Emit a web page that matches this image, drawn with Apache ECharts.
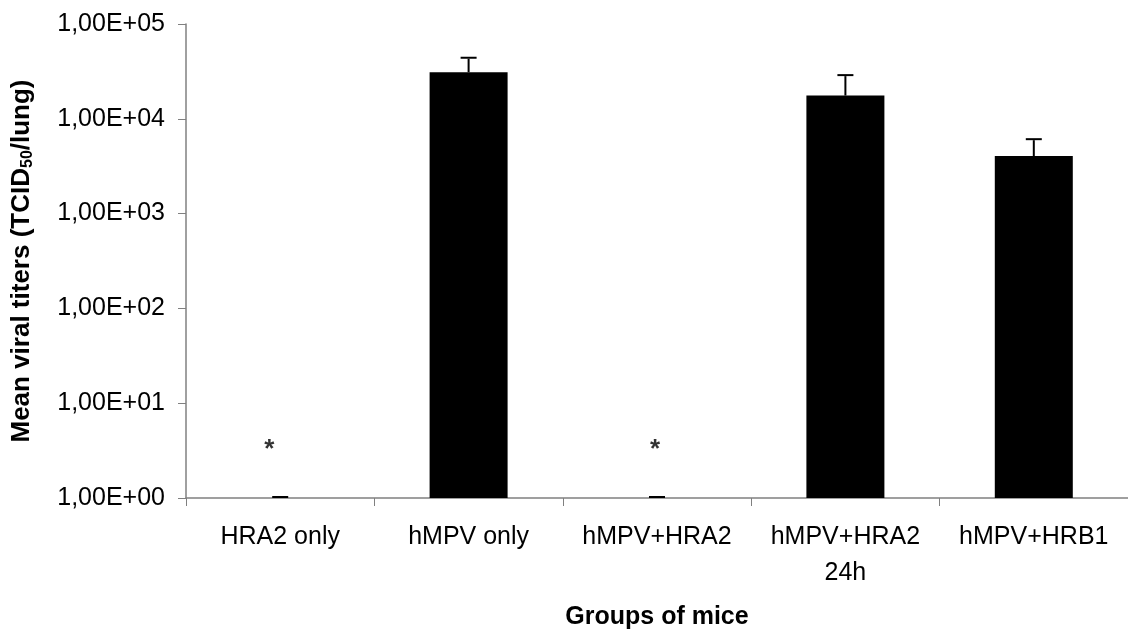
<!DOCTYPE html>
<html>
<head>
<meta charset="utf-8">
<script src="https://cdn.jsdelivr.net/npm/echarts@6/dist/echarts.min.js"></script>
<style>
html,body{margin:0;padding:0;background:#fff;}
#chart{width:1128px;height:637px;}
</style>
</head>
<body>
<div id="chart"></div>
<script>
const categories = ['HRA2 only', 'hMPV only', 'hMPV+HRA2', 'hMPV+HRA2\n24h', 'hMPV+HRB1'];
const meanTiters = [1, 31000, 1, 17600, 4050];
const errorPlus = [0, 12000, 0, 10600, 1900];
const yTickLabels = ['1,00E+00', '1,00E+01', '1,00E+02', '1,00E+03', '1,00E+04', '1,00E+05'];
const asteriskCategories = [0, 2];
const asteriskLevel = [3.7, 3.7];
const asteriskShift = [-11, -2];

const FONT = "'Liberation Sans', Arial, Helvetica, sans-serif";
const chart = echarts.init(document.getElementById('chart'), null, {renderer: 'canvas'});

const errData = categories.map((c, i) => [i, meanTiters[i], errorPlus[i]]);
const starData = asteriskCategories.map((ci, k) => ({
  value: [ci, asteriskLevel[k]],
  label: {offset: [asteriskShift[k], 6]}
}));

const option = {
  animation: false,
  backgroundColor: '#ffffff',
  grid: {left: 186, top: 24, right: -5, bottom: 133.7, containLabel: false},
  xAxis: {
    type: 'category',
    data: categories,
    boundaryGap: true,
    axisLine: {show: true, lineStyle: {color: '#808080', width: 1.5}},
    axisTick: {show: true, inside: false, length: 8, lineStyle: {color: '#808080', width: 1}},
    axisLabel: {color: '#000', fontFamily: FONT, fontSize: 25, margin: 21, lineHeight: 36, interval: 0},
    name: 'Groups of mice',
    nameLocation: 'middle',
    nameGap: 104,
    nameTextStyle: {color: '#000', fontFamily: FONT, fontSize: 25, fontWeight: 'bold', lineHeight: 30}
  },
  yAxis: {
    type: 'log',
    logBase: 10,
    min: 1,
    max: 100000,
    interval: 1,
    splitLine: {show: false},
    axisLine: {show: true, lineStyle: {color: '#808080', width: 1.5}},
    axisTick: {show: true, inside: false, length: 8, lineStyle: {color: '#808080', width: 1}},
    axisLabel: {
      color: '#000', fontFamily: FONT, fontSize: 25, margin: 21,
      formatter: function (v) { return yTickLabels[Math.round(Math.log10(v))]; }
    },
    name: '{a|Mean viral titers (TCID}{s|50}{a|/lung)}',
    nameLocation: 'middle',
    nameRotate: 90,
    nameGap: 150,
    nameTextStyle: {
      rich: {
        a: {color: '#000', fontFamily: FONT, fontSize: 26, fontWeight: 'bold'},
        s: {color: '#000', fontFamily: FONT, fontSize: 16, fontWeight: 'bold', padding: [12, 0, 0, 0]}
      }
    }
  },
  series: [
    {
      type: 'bar',
      data: meanTiters,
      barWidth: 78,
      itemStyle: {color: '#000000'},
      z: 2
    },
    {
      type: 'custom',
      data: errData,
      z: 5,
      renderItem: function (params, api) {
        const i = api.value(0), v = api.value(1), e = api.value(2);
        const p0 = api.coord([i, v]);
        const p1 = api.coord([i, v + e]);
        const hw = 8;
        return {
          type: 'group',
          children: [
            {type: 'line', shape: {x1: p0[0], y1: p0[1], x2: p1[0], y2: p1[1]}, style: {stroke: '#000', lineWidth: 2}},
            {type: 'line', shape: {x1: p1[0] - hw, y1: p1[1] - 1, x2: p1[0] + hw, y2: p1[1] - 1}, style: {stroke: '#000', lineWidth: 2}}
          ]
        };
      }
    },
    {
      type: 'scatter',
      data: starData,
      symbolSize: 0,
      silent: true,
      z: 6,
      label: {
        show: true,
        position: 'inside',
        formatter: '*',
        color: '#000',
        fontFamily: FONT,
        fontWeight: 'bold',
        fontSize: 26
      }
    }
  ]
};
chart.setOption(option);
</script>
</body>
</html>
